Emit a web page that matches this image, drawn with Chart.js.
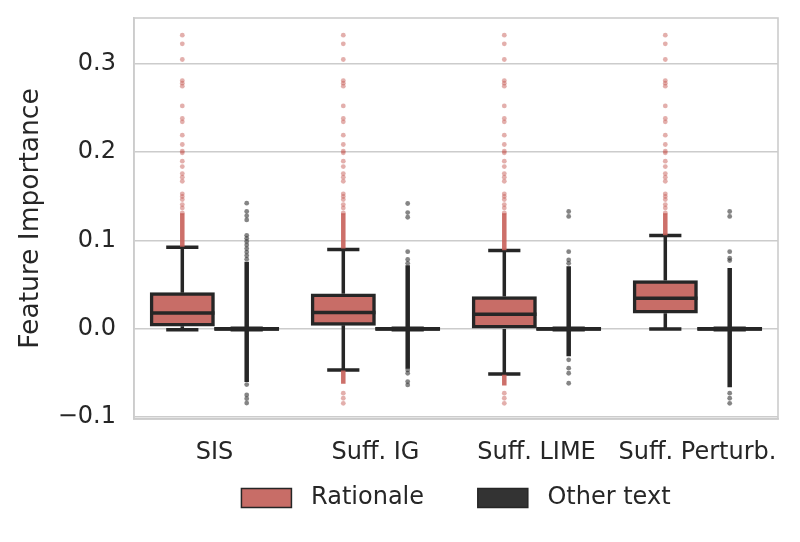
<!DOCTYPE html>
<html>
<head>
<meta charset="utf-8">
<script src="https://cdn.jsdelivr.net/npm/chart.js@4.4.0/dist/chart.umd.min.js"></script>
<style>
  html, body { margin: 0; padding: 0; background: #fff; }
  #wrap { width: 800px; height: 542px; }
</style>
</head>
<body>
<div id="wrap"><canvas id="chart"></canvas></div>
<script>
// --- data ---
const categories = ['SIS', 'Suff. IG', 'Suff. LIME', 'Suff. Perturb.'];
const yTickValues = [-0.1, 0.0, 0.1, 0.2, 0.3];

// Rationale boxes
const ratLowWhisker  = [-0.001, -0.0465, -0.051, 0.0];
const ratQ1          = [0.003, 0.004, 0.0, 0.0178];
const ratMedian      = [0.018, 0.0185, 0.0166, 0.0347];
const ratQ3          = [0.041, 0.0398, 0.0366, 0.0547];
const ratHighWhisker = [0.0925, 0.090, 0.0887, 0.1057];

// Other text boxes (almost flat at zero)
const othLowWhisker  = [0, 0, 0, 0];
const othQ1          = [-0.0017, -0.0017, -0.0017, -0.0017];
const othMedian      = [0, 0, 0, 0];
const othQ3          = [0.0017, 0.0017, 0.0017, 0.0017];
const othHighWhisker = [0, 0, 0, 0];

// outliers - the upper rationale outliers look the same for every method
const ratUpperFliers = [0.3326, 0.3228, 0.305, 0.2812, 0.2782, 0.2748, 0.2525, 0.2382, 0.2344,
  0.2193, 0.2088, 0.2012, 0.1993, 0.1899, 0.1838, 0.1759, 0.1718, 0.1672, 0.1529, 0.1499,
  0.1465, 0.1408, 0.137, 0.1314];
const ratLowerFliers = [[], [-0.0728, -0.0785, -0.0842], [-0.0728, -0.0785, -0.0842], []];
// ranges where outliers are so dense they form a solid stroke
const ratUpperBand = [[0.093, 0.131], [0.091, 0.131], [0.089, 0.131], [0.106, 0.131]];
const ratLowerBand = [null, [-0.062, -0.047], [-0.064, -0.052], null];

const othFliers = [
  [0.1424, 0.1329, 0.128, 0.1234, 0.106, 0.1025, 0.099, 0.095, 0.091, 0.087, 0.083, 0.079, -0.063, -0.0747, -0.079, -0.084],
  [0.142, 0.1317, 0.1264, 0.0874, 0.0786, 0.0743, -0.0464, -0.0502, -0.0596, -0.0634],
  [0.1329, 0.1273, 0.0874, 0.0781, 0.0743, -0.035, -0.0445, -0.0502, -0.0615],
  [0.1329, 0.1273, 0.0874, 0.08, 0.0774, -0.0728, -0.0785, -0.0842]
];
const othBand = [[-0.060, 0.076], [-0.045, 0.072], [-0.031, 0.071], [-0.066, 0.069]];

// --- styling ---
const RED = '#c86d67';
const DARK = '#333333';
const EDGE = '#262626';
const GRID = '#cccccc';
const FONT = "'DejaVu Sans', sans-serif";
const OFFSET = 0.2;  // half of one box width, in category units
const CAP = 0.1;     // half cap width

function pt(x, y) { return { x: x, y: y }; }
const GAP = { x: 0, y: null };

function whiskerPath(shift, lo, q1, q3, hi) {
  const pts = [];
  categories.forEach((c, i) => {
    const x = i + shift;
    pts.push(pt(x, q3[i]), pt(x, hi[i]), GAP);
    pts.push(pt(x, q1[i]), pt(x, lo[i]), GAP);
    pts.push(pt(x - CAP, hi[i]), pt(x + CAP, hi[i]), GAP);
    pts.push(pt(x - CAP, lo[i]), pt(x + CAP, lo[i]), GAP);
  });
  return pts;
}

function medianPath(shift, med) {
  const pts = [];
  categories.forEach((c, i) => {
    const x = i + shift;
    pts.push(pt(x - OFFSET, med[i]), pt(x + OFFSET, med[i]), GAP);
  });
  return pts;
}

function bandPath(shift, bands) {
  const pts = [];
  bands.forEach((b, i) => {
    if (!b) return;
    pts.push(pt(i + shift, b[0]), pt(i + shift, b[1]), GAP);
  });
  return pts;
}

function flierPoints(shift, lists) {
  const pts = [];
  lists.forEach((list, i) => list.forEach(v => pts.push(pt(i + shift, v))));
  return pts;
}

function boxes(shift, q1, q3) {
  return categories.map((c, i) => ({ x: i + shift, y: [q1[i], q3[i]] }));
}

const lineDefaults = {
  type: 'line', pointRadius: 0, pointHoverRadius: 0,
  spanGaps: false, fill: false, borderCapStyle: 'butt', tension: 0
};

const frame = {
  id: 'frame',
  beforeDatasetsDraw(chart) {
    const a = chart.chartArea, ctx = chart.ctx;
    ctx.save();
    ctx.strokeStyle = GRID;
    ctx.lineWidth = 1.6;
    ctx.strokeRect(a.left, a.top, a.right - a.left, a.bottom - a.top);
    ctx.restore();
  }
};

new Chart(document.getElementById('chart'), {
  type: 'bar',
  data: {
    datasets: [
      {
        ...lineDefaults, type: 'scatter', showLine: false, label: 'rat fliers',
        data: flierPoints(-OFFSET, categories.map((c, i) => ratUpperFliers.concat(ratLowerFliers[i]))),
        pointRadius: 2.4, pointBorderWidth: 0, pointBackgroundColor: 'rgba(200, 96, 90, 0.5)', order: 0
      },
      {
        ...lineDefaults, type: 'scatter', showLine: false, label: 'oth fliers',
        data: flierPoints(OFFSET, othFliers),
        pointRadius: 2.4, pointBorderWidth: 0, pointBackgroundColor: 'rgba(51, 51, 51, 0.6)', order: 0
      },
      { ...lineDefaults, label: 'rat band', data: bandPath(-OFFSET, ratUpperBand).concat(bandPath(-OFFSET, ratLowerBand)),
        borderColor: 'rgba(200, 96, 90, 0.9)', borderWidth: 4.5, order: 1 },
      { ...lineDefaults, label: 'oth band', data: bandPath(OFFSET, othBand),
        borderColor: EDGE, borderWidth: 4.5, order: 1 },
      { ...lineDefaults, label: 'rat median', data: medianPath(-OFFSET, ratMedian), borderColor: EDGE, borderWidth: 3.5, order: 2 },
      { ...lineDefaults, label: 'oth median', data: medianPath(OFFSET, othMedian), borderColor: EDGE, borderWidth: 3.5, order: 2 },
      { ...lineDefaults, label: 'rat whiskers', data: whiskerPath(-OFFSET, ratLowWhisker, ratQ1, ratQ3, ratHighWhisker),
        borderColor: EDGE, borderWidth: 3.5, order: 3 },
      { ...lineDefaults, label: 'oth whiskers', data: whiskerPath(OFFSET, othLowWhisker, othQ1, othQ3, othHighWhisker),
        borderColor: EDGE, borderWidth: 5, order: 3 },
      {
        label: 'Rationale', data: boxes(-OFFSET, ratQ1, ratQ3),
        backgroundColor: RED, borderColor: EDGE, borderWidth: 3.5, borderSkipped: false,
        grouped: false, categoryPercentage: 1.0, barPercentage: 1.0, order: 4
      },
      {
        label: 'Other text', data: boxes(OFFSET, othQ1, othQ3),
        backgroundColor: DARK, borderColor: EDGE, borderWidth: 3, borderSkipped: false,
        grouped: false, categoryPercentage: 1.0, barPercentage: 1.0, order: 4
      }
    ]
  },
  options: {
    responsive: true,
    maintainAspectRatio: false,
    animation: false,
    layout: { padding: { left: 0, right: 22, top: 18, bottom: 22 } },
    scales: {
      x: {
        type: 'linear', offset: false, min: -0.5, max: 3.5,
        afterBuildTicks: s => { s.ticks = categories.map((c, i) => ({ value: i })); },
        grid: { display: false, offset: false },
        border: { display: true, color: GRID, width: 1.6 },
        ticks: {
          color: EDGE, font: { family: FONT, size: 24 }, padding: 11, maxRotation: 0, autoSkip: false,
          callback: v => categories[v]
        },
        afterFit: s => { s.height = 59; s.paddingLeft = 0; s.paddingRight = 0; }
      },
      y: {
        min: -0.102, max: 0.352,
        afterBuildTicks: s => { s.ticks = yTickValues.map(v => ({ value: v })); },
        afterFit: s => { s.width = 134; s.paddingTop = 0; s.paddingBottom = 0; },
        grid: { color: GRID, lineWidth: 1.6, drawTicks: false },
        border: { display: true, color: GRID, width: 1.6 },
        ticks: {
          color: EDGE, padding: 18, font: { family: FONT, size: 24 },
          callback: v => v.toFixed(1).replace('-', '\u2212')
        },
        title: {
          display: true, text: 'Feature Importance', color: EDGE,
          font: { family: FONT, size: 26.5 }, padding: { top: 15, bottom: 0 }
        }
      }
    },
    plugins: {
      tooltip: { enabled: false },
      legend: {
        position: 'bottom',
        fullSize: false,
        labels: {
          color: EDGE, font: { family: FONT, size: 24 },
          boxWidth: 50, boxHeight: 19, padding: 8,
          generateLabels: chart => [8, 9].map((i, k) => {
            const ds = chart.data.datasets[i];
            // leading space separates text from the swatch, trailing spaces separate the two entries
            return {
              text: ' ' + ds.label + (k === 0 ? '      ' : ''), fillStyle: ds.backgroundColor, strokeStyle: EDGE,
              lineWidth: 1.5, hidden: false, datasetIndex: i, fontColor: EDGE
            };
          })
        }
      }
    }
  },
  plugins: [frame]
});
</script>
</body>
</html>
